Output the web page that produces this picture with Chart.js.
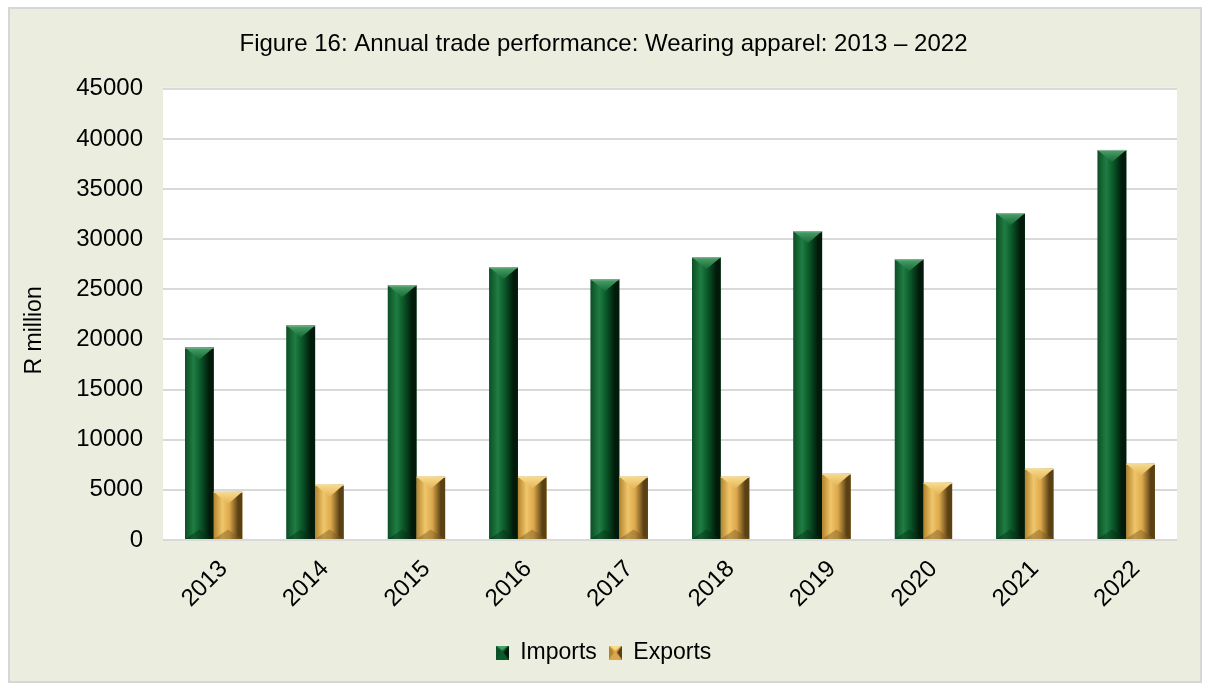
<!DOCTYPE html>
<html>
<head>
<meta charset="utf-8">
<script src="https://cdn.jsdelivr.net/npm/chart.js@4/dist/chart.umd.min.js"></script>
<style>
  html, body { margin: 0; padding: 0; background: #ffffff; }
  #frame {
    position: absolute; left: 8px; top: 7px; width: 1190px; height: 672px;
    background: #ebeedf; border: 2px solid #d6d6d6;
  }
  #wrap { position: absolute; left: 0; top: 0; width: 1207px; height: 686px; }
</style>
</head>
<body>
<div id="frame"></div>
<div id="wrap"><canvas id="tradeChart" width="1207" height="686"></canvas></div>
<script>
// Wearing apparel trade, R million
const years = ['2013', '2014', '2015', '2016', '2017', '2018', '2019', '2020', '2021', '2022'];
const imports = [19200, 21400, 25400, 27200, 26000, 28200, 30800, 28000, 32600, 38900];
const exports = [4800, 5500, 6300, 6300, 6300, 6300, 6600, 5700, 7100, 7600];
const yTicks = [0, 5000, 10000, 15000, 20000, 25000, 30000, 35000, 40000, 45000];

const FONT = "'Liberation Sans', Arial, sans-serif";

// colour sets for the bevelled bars
const palettes = [
    { base: '#0b5a2a', edgeL: '#0d4f26', hi: '#1f7d43', mid: '#0a5628', edgeR: '#011a0a',
      topA: '#4aa26a', topB: '#176a35', bot: '#062f15', rim: '#8fb89a' },
    { base: '#dca64a', edgeL: '#b4842f', hi: '#f0c66a', mid: '#dda84c', edgeR: '#5a4114',
      topA: '#f8dc8a', topB: '#e4b257', bot: '#7a5a22', rim: '#efd7a0' }
];

function paintBevel(ctx, left, top, right, bottom, p) {
    const w = right - left;
    const cx = left + w / 2;
    const bh = Math.min(w * 0.42, (bottom - top) / 2);

    const g = ctx.createLinearGradient(left, 0, right, 0);
    g.addColorStop(0, p.edgeL);
    g.addColorStop(0.3, p.hi);
    g.addColorStop(0.55, p.mid);
    g.addColorStop(0.85, p.edgeR);
    g.addColorStop(1, p.edgeR);
    ctx.fillStyle = g;
    ctx.fillRect(left, top, w, bottom - top);

    // top facet
    const tg = ctx.createLinearGradient(0, top, 0, top + bh);
    tg.addColorStop(0, p.topA);
    tg.addColorStop(1, p.topB);
    ctx.beginPath();
    ctx.moveTo(left, top);
    ctx.lineTo(right, top);
    ctx.lineTo(cx, top + bh);
    ctx.closePath();
    ctx.fillStyle = tg;
    ctx.fill();

    // bottom facet
    ctx.beginPath();
    ctx.moveTo(left, bottom);
    ctx.lineTo(right, bottom);
    ctx.lineTo(cx, bottom - bh * 0.8);
    ctx.closePath();
    ctx.globalAlpha = 0.45;
    ctx.fillStyle = p.bot;
    ctx.fill();
    ctx.globalAlpha = 1;

    ctx.strokeStyle = p.rim;
    ctx.lineWidth = 1;
    ctx.beginPath();
    ctx.moveTo(left, top + 0.5);
    ctx.lineTo(right, top + 0.5);
    ctx.stroke();
}

function legendSwatch(p) {
    const c = document.createElement('canvas');
    c.width = 13; c.height = 14;
    const cx = c.getContext('2d');
    cx.fillStyle = p.base;
    cx.fillRect(0, 0, 13, 14);
    cx.fillStyle = p.edgeR;
    cx.beginPath(); cx.moveTo(13, 0); cx.lineTo(13, 14); cx.lineTo(8, 7); cx.closePath(); cx.fill();
    cx.fillStyle = p.topA;
    cx.beginPath(); cx.moveTo(0, 0); cx.lineTo(13, 0); cx.lineTo(6.5, 5); cx.closePath(); cx.fill();
    cx.fillStyle = p.edgeL;
    cx.beginPath(); cx.moveTo(0, 0); cx.lineTo(0, 14); cx.lineTo(5, 7); cx.closePath(); cx.fill();
    return c;
}
const swatches = palettes.map(legendSwatch);

const plotBackground = {
    id: 'plotBackground',
    beforeDraw(chart) {
        const { ctx, chartArea: a } = chart;
        ctx.save();
        ctx.fillStyle = '#ffffff';
        ctx.fillRect(a.left, a.top - 1, a.right - a.left, a.bottom - a.top + 1);
        ctx.restore();
    }
};

const bevelBars = {
    id: 'bevelBars',
    afterDatasetsDraw(chart) {
        const ctx = chart.ctx;
        ctx.save();
        chart.data.datasets.forEach((ds, i) => {
            chart.getDatasetMeta(i).data.forEach(bar => {
                const { x, y, base, width } = bar.getProps(['x', 'y', 'base', 'width'], true);
                paintBevel(ctx, x - width / 2, y, x + width / 2, base, palettes[i]);
            });
        });
        ctx.restore();
    }
};

// y axis caption, sits a little below the middle of the plot
const axisCaption = {
    id: 'axisCaption',
    afterDraw(chart) {
        const ctx = chart.ctx;
        const a = chart.chartArea;
        ctx.save();
        ctx.translate(35, (a.top + a.bottom) / 2 + 16);
        ctx.rotate(-Math.PI / 2);
        ctx.fillStyle = '#000000';
        ctx.font = '23px ' + FONT;
        ctx.textAlign = 'center';
        ctx.textBaseline = 'middle';
        ctx.fillText('R million', 0, 0);
        ctx.restore();
    }
};

new Chart(document.getElementById('tradeChart'), {
    type: 'bar',
    data: {
        labels: years,
        datasets: [
            { label: 'Imports', data: imports, backgroundColor: palettes[0].base, pointStyle: swatches[0] },
            { label: 'Exports', data: exports, backgroundColor: palettes[1].base, pointStyle: swatches[1] }
        ]
    },
    options: {
        responsive: false,
        animation: false,
        datasets: { bar: { categoryPercentage: 0.565, barPercentage: 1.0 } },
        layout: { padding: { left: 0, right: 0, top: 0, bottom: 12 } },
        plugins: {
            title: {
                display: true,
                text: 'Figure 16: Annual trade performance: Wearing apparel: 2013 \u2013 2022',
                color: '#000000',
                font: { family: FONT, size: 24, weight: 'normal' },
                padding: { top: 30, bottom: 30 }
            },
            legend: {
                position: 'bottom',
                labels: {
                    usePointStyle: true,
                    boxWidth: 13, boxHeight: 14,
                    color: '#000000',
                    font: { family: FONT, size: 23 },
                    padding: 12
                }
            },
            tooltip: { enabled: false }
        },
        scales: {
            x: {
                grid: { display: false },
                border: { display: false },
                ticks: {
                    color: '#000000',
                    font: { family: FONT, size: 24 },
                    minRotation: 45, maxRotation: 45,
                    padding: 7,
                    labelOffset: 10
                },
                afterFit(scale) { scale.height = 89; }
            },
            y: {
                min: 0, max: 45000,
                afterBuildTicks(scale) { scale.ticks = yTicks.map(v => ({ value: v })); },
                grid: { color: '#d9d9d9', lineWidth: 2, drawTicks: false },
                border: { display: false },
                ticks: {
                    color: '#000000',
                    font: { family: FONT, size: 24 },
                    padding: 20,
                    callback: v => String(v)
                },
                afterFit(scale) { scale.width = 163; }
            },
            // empty strip on the right of the plot
            edge: {
                position: 'right',
                display: true,
                grid: { display: false },
                border: { display: false },
                ticks: { display: false },
                afterFit(scale) { scale.width = 30; }
            }
        }
    },
    plugins: [plotBackground, bevelBars, axisCaption]
});
</script>
</body>
</html>
